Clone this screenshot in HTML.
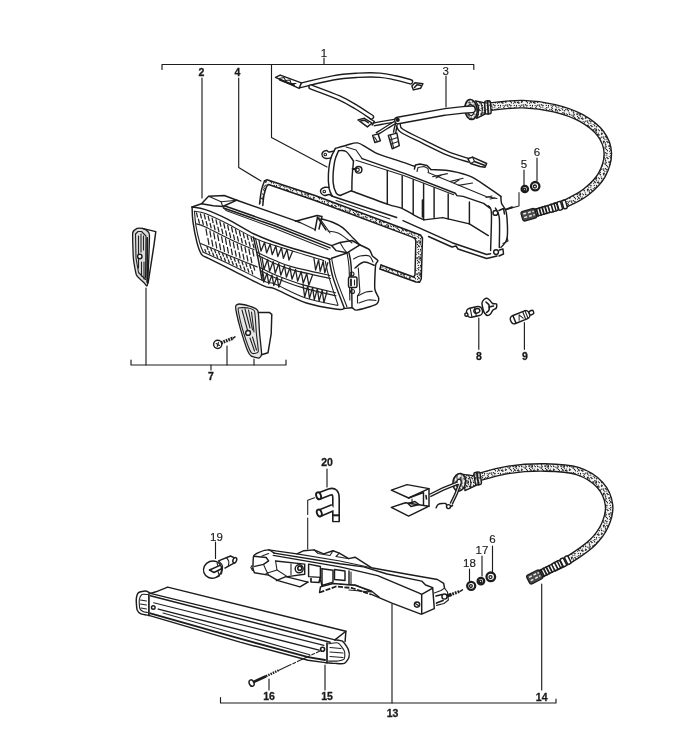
<!DOCTYPE html>
<html><head><meta charset="utf-8"><title>Parts diagram</title>
<style>
html,body{margin:0;padding:0;background:#fff;}
svg{display:block;}
.l{fill:none;stroke:#1c1c1c;stroke-width:1.45;stroke-linecap:round;stroke-linejoin:round;}
.t{fill:none;stroke:#222;stroke-width:1.1;stroke-linecap:round;stroke-linejoin:round;}
.w{fill:#fff;stroke:#1c1c1c;stroke-width:1.45;stroke-linejoin:round;}
text{font-family:"Liberation Sans",sans-serif;font-weight:bold;font-size:10.5px;fill:#1a1a1a;text-anchor:middle;stroke:#1a1a1a;stroke-width:0.3px;}
text.n{font-weight:normal;font-size:11.5px;stroke-width:0.15px;}
</style></head><body>
<svg width="700" height="748" viewBox="0 0 700 748">
<defs>
<pattern id="stp" width="16" height="16" patternUnits="userSpaceOnUse"><rect width="16" height="16" fill="#f4f4f4"/><g fill="#222"><circle cx="1.1" cy="1.7" r="0.69"/><circle cx="1.1" cy="2.5" r="0.70"/><circle cx="1.5" cy="4.4" r="0.64"/><circle cx="1.5" cy="7.3" r="0.56"/><circle cx="1.2" cy="12.5" r="0.55"/><circle cx="0.3" cy="14.5" r="0.62"/><circle cx="2.9" cy="0.9" r="0.80"/><circle cx="3.2" cy="3.0" r="0.75"/><circle cx="2.6" cy="5.8" r="0.85"/><circle cx="3.3" cy="6.7" r="0.62"/><circle cx="2.3" cy="9.4" r="0.67"/><circle cx="2.8" cy="11.7" r="0.80"/><circle cx="2.5" cy="13.7" r="0.69"/><circle cx="4.3" cy="1.2" r="0.78"/><circle cx="4.3" cy="2.7" r="0.84"/><circle cx="4.4" cy="4.6" r="0.58"/><circle cx="5.5" cy="6.5" r="0.72"/><circle cx="4.5" cy="9.4" r="0.59"/><circle cx="4.4" cy="10.9" r="0.61"/><circle cx="5.8" cy="13.5" r="0.64"/><circle cx="4.5" cy="14.8" r="0.81"/><circle cx="6.4" cy="1.8" r="0.61"/><circle cx="7.4" cy="2.7" r="0.64"/><circle cx="6.3" cy="5.1" r="0.62"/><circle cx="6.8" cy="6.9" r="0.84"/><circle cx="7.1" cy="9.6" r="0.60"/><circle cx="7.7" cy="11.5" r="0.62"/><circle cx="7.4" cy="13.7" r="0.61"/><circle cx="9.2" cy="0.9" r="0.58"/><circle cx="9.7" cy="2.6" r="0.76"/><circle cx="9.5" cy="5.2" r="0.64"/><circle cx="9.4" cy="6.3" r="0.62"/><circle cx="9.6" cy="9.2" r="0.63"/><circle cx="8.5" cy="10.2" r="0.63"/><circle cx="8.3" cy="12.5" r="0.66"/><circle cx="8.4" cy="14.8" r="0.82"/><circle cx="11.3" cy="3.1" r="0.59"/><circle cx="10.2" cy="5.7" r="0.76"/><circle cx="11.2" cy="9.0" r="0.77"/><circle cx="11.8" cy="10.3" r="0.71"/><circle cx="11.6" cy="13.4" r="0.76"/><circle cx="11.7" cy="14.8" r="0.76"/><circle cx="13.6" cy="0.9" r="0.79"/><circle cx="13.1" cy="3.2" r="0.66"/><circle cx="13.2" cy="4.3" r="0.74"/><circle cx="13.4" cy="8.8" r="0.77"/><circle cx="12.9" cy="11.5" r="0.58"/><circle cx="12.2" cy="13.2" r="0.69"/><circle cx="13.3" cy="15.0" r="0.73"/><circle cx="14.2" cy="2.7" r="0.75"/><circle cx="14.5" cy="5.6" r="0.75"/><circle cx="15.6" cy="6.7" r="0.75"/><circle cx="14.9" cy="9.5" r="0.82"/><circle cx="14.8" cy="11.1" r="0.64"/><circle cx="15.0" cy="13.5" r="0.80"/><circle cx="15.7" cy="14.6" r="0.60"/></g></pattern>
</defs>
<rect width="700" height="748" fill="#fff"/>
<!--LEADERS-->
<g id="leaders" class="l" style="stroke-width:1.15">
<path d="M162,69.5V64.5H473.8V69.5"/>
<path d="M324,58V64.5"/>
<path d="M202,78V198"/>
<path d="M238.7,78V167.5L261,181"/>
<path d="M271.5,64.5V137.5L327,167"/>
<path d="M446,76V107"/>
<path d="M524,170V185"/>
<path d="M537,158V181"/>
<path d="M519,192.500V206L507.500,209" class="t"/>
<path d="M131,360V365H286V360"/>
<path d="M211,365V370"/>
<path d="M146,288V365"/>
<path d="M227,346V365"/>
<path d="M254,359V365"/>
<path d="M478.800,318V349.300"/>
<path d="M524.400,322.500V349.300"/>
<path d="M327,469V487"/>
<path d="M314.500,497.700L307.700,500.300V514.500M307.700,518V549" class="t"/>
<path d="M215.500,542V558.500"/>
<path d="M220.500,697.500V703H556V699"/>
<path d="M269,679V690"/>
<path d="M325,665V690"/>
<path d="M392,604V703"/>
<path d="M541.700,584V690"/>
<path d="M492.500,546V572"/>
<path d="M482,556V576"/>
<path d="M469.500,569V582"/>
</g>
<!--LABELS-->
<g id="labels" style="filter:grayscale(1)">
<text class="n" x="324" y="57">1</text>
<text x="201.500" y="76">2</text>
<text x="237.500" y="76">4</text>
<text class="n" x="445.600" y="74.500">3</text>
<text class="n" x="524" y="168">5</text>
<text class="n" x="537" y="156">6</text>
<text x="211" y="380">7</text>
<text x="478.800" y="359.500">8</text>
<text x="524.800" y="359.800">9</text>
<text x="327" y="466">20</text>
<text class="n" x="216.400" y="540.500">19</text>
<text x="269" y="700">16</text>
<text x="327" y="700">15</text>
<text x="392.500" y="716.500">13</text>
<text x="541.700" y="701">14</text>
<text class="n" x="492.500" y="543">6</text>
<text class="n" x="482" y="554">17</text>
<text class="n" x="469.500" y="567">18</text>
</g>
<path d="M490.5,106.5C495.9,106.1 512.1,103.8 522.8,104.1C533.4,104.4 544.7,105.9 554.4,108.2C564.1,110.5 573.4,113.7 581.1,117.9C588.8,122.2 596.2,127.8 600.6,133.7C605.0,139.6 607.6,146.2 607.8,153.1C608.0,160.0 605.4,168.5 601.8,175.0C598.2,181.5 591.9,187.3 586.0,192.0C580.1,196.7 571.8,200.5 566.6,203.0C561.4,205.5 556.9,206.3 555.0,207.0" fill="none" stroke="#1c1c1c" stroke-width="8.8"/>
<path d="M490.5,106.5C495.9,106.1 512.1,103.8 522.8,104.1C533.4,104.4 544.7,105.9 554.4,108.2C564.1,110.5 573.4,113.7 581.1,117.9C588.8,122.2 596.2,127.8 600.6,133.7C605.0,139.6 607.6,146.2 607.8,153.1C608.0,160.0 605.4,168.5 601.8,175.0C598.2,181.5 591.9,187.3 586.0,192.0C580.1,196.7 571.8,200.5 566.6,203.0C561.4,205.5 556.9,206.3 555.0,207.0" fill="none" stroke="url(#stp)" stroke-width="6.1"/>
<g id="rearhousing"><path class="l" d="M335.4,148.4C337.2,147.9 342.7,146.1 346.4,145.2C350.1,144.3 354.0,142.5 357.4,142.9C360.8,143.3 363.5,145.8 366.9,147.6C370.3,149.4 372.9,151.8 377.9,153.9C382.9,156.0 390.6,158.1 396.7,160.1C402.8,162.1 411.4,165.2 414.4,166.2"/>
<path class="l" d="M414.4,169.0L415.5,165.0L420.0,164.0L427.0,165.5L430.9,169.6"/>
<path class="t" d="M417.0,171.5L418.0,167.5L424.0,166.5L428.0,168.5L428.5,172.0"/>
<path class="l" d="M430.9,169.6C434.4,169.9 445.4,170.0 452.1,171.2C458.8,172.4 465.0,173.9 471.0,176.7C477.0,179.4 483.3,184.4 488.3,187.7C493.3,191.0 498.8,194.9 500.9,196.4"/>
<path class="l" d="M500.9,196.4C501.0,197.6 500.7,200.7 501.6,203.4C502.5,206.2 505.5,207.1 506.4,212.9C507.3,218.7 508.0,232.2 507.1,238.0C506.2,243.8 501.9,245.8 500.9,247.4"/>
<path class="l" d="M495.4,208.1C496.0,209.7 498.6,211.0 499.3,217.6C500.0,224.2 499.3,242.4 499.3,247.4"/>
<path class="l" d="M335.4,148.4C334.6,150.1 331.9,154.3 330.7,158.6C329.5,162.9 328.7,169.3 328.4,174.3C328.1,179.3 328.5,184.7 329.1,188.4C329.8,192.1 331.8,195.0 332.3,196.3"/>
<path class="l" d="M338.6,150.7C337.9,152.5 335.5,156.5 334.6,161.7C333.7,166.9 332.8,176.9 333.1,182.1C333.4,187.3 335.0,190.9 336.2,193.1C337.4,195.3 339.5,195.1 340.1,195.5"/>
<path class="l" d="M338.6,150.7C339.8,150.8 343.5,149.8 346.0,151.5C348.5,153.2 352.2,159.3 353.5,160.9"/>
<path class="l" d="M353.5,160.9C353.3,163.4 352.5,171.2 352.2,176.0C351.9,180.8 351.9,187.7 351.9,190.0"/>
<path class="l" d="M340.1,195.5L351.1,190.8"/>
<path class="l" d="M334.0,151.0C333.2,151.2 330.2,152.1 329.0,152.0C327.8,151.9 327.6,150.4 326.5,150.5C325.4,150.6 323.2,151.5 322.5,152.5C321.8,153.5 321.9,155.5 322.5,156.5C323.1,157.5 324.6,158.2 326.0,158.5C327.4,158.8 330.2,158.1 331.0,158.0"/>
<circle class="t" cx="325.3" cy="154.5" r="1.3"/>
<path class="l" d="M329.0,187.5C328.3,187.5 326.3,187.0 325.0,187.3C323.7,187.6 321.7,188.6 321.0,189.5C320.3,190.4 320.4,192.0 321.0,193.0C321.6,194.0 323.2,195.2 324.5,195.5C325.8,195.8 327.8,194.4 329.0,194.5C330.2,194.6 331.5,195.8 332.0,196.0"/>
<circle class="t" cx="324.3" cy="191.5" r="1.3"/>
<path class="l" d="M362.1,158.6L405.0,173.6L455.3,193.2L456.9,195.6L463.1,196.4L483.6,203.4L489.9,208.1"/>
<path class="t" d="M356.0,160.3L405.0,176.0L453.7,194.8"/>
<path class="t" d="M346.0,147.0L356.0,150.0L362.1,158.6"/>
<path class="l" d="M488.3,205.8C488.8,207.0 491.0,205.4 491.4,212.9C491.8,220.4 490.7,244.3 490.6,250.6"/>
<path class="l" d="M387.3,170.4V204.1"/>
<path class="l" d="M402.2,175.9V208.1"/>
<path class="l" d="M413.2,179.8V214.4"/>
<path class="l" d="M423.6,183.8V219.1"/>
<path class="l" d="M422.4,200.0V217.0"/>
<path class="l" d="M434.1,187.7V217.6"/>
<path class="l" d="M448.2,194.0V219.1"/>
<path class="l" d="M469.4,201.9V223.9"/>
<path class="l" d="M351.1,190.8C357.1,193.0 378.9,201.2 387.3,204.1C395.7,207.0 396.9,206.3 401.4,208.1C405.8,209.9 410.2,213.1 414.0,215.1C417.8,217.1 422.2,219.1 423.9,219.9"/>
<path class="l" d="M423.9,219.9L442.7,217.6L469.4,223.9L488.3,235.6"/>
<path class="l" d="M332.3,196.3L396.7,217.5"/>
<path class="l" d="M403.0,220.6L452.1,242.7L486.7,254.5L490.6,253.7"/>
<path class="t" d="M336.0,200.5L390.0,219.0"/>
<path class="l" d="M428.5,236.5L452.0,247.0L456.0,246.0L458.0,249.0L486.7,258.5L497.0,256.0"/>
<circle class="w" cx="495.4" cy="212.9" r="2.4"/>
<circle class="w" cx="496.1" cy="252.1" r="2.4"/>
<path class="l" d="M499.0,210.5L503.5,208.5L504.5,214.0"/>
<path class="l" d="M499.5,250.0L503.0,249.0L503.5,254.0L499.0,256.0"/>
<path class="t" d="M432.5,176.7L447.4,173.6"/>
<path class="t" d="M450.6,181.4L463.1,178.3"/>
<path class="t" d="M458.4,185.4L472.6,183.0"/>
<path class="t" d="M436.0,178.0L441.0,175.2"/>
<path class="t" d="M454.0,183.0L459.0,180.0"/>
<path class="t" d="M486.0,197.5L492.0,196.0"/>
<path class="t" d="M490.0,199.0L495.0,198.0"/>
<path class="t" d="M428.0,172.5L486.0,196.5L497.0,198.5"/>
<path class="l" d="M505.6,209.6L512.0,207.2" style="stroke-width:2"/>
<circle class="w" cx="358.6" cy="169.8" r="3.3"/>
<circle class="t" cx="357.6" cy="169.8" r="1.7"/>
<path class="l" d="M352.5,169.0L355.5,169.0" style="stroke-width:1.8"/>
<path class="t" d="M503.0,243.5L508.0,241.0L507.0,237.5"/>
</g>
<g id="gasket"><path d="M264.5,181.0L267.0,179.7L315.0,195.5L415.6,233.2L420.5,235.0L422.5,238.0L421.3,279.0L419.5,282.3L416.0,282.0L380.0,269.0L380.0,269.0L381,265L381.0,265.0L413.5,277.0L415.0,275.0L415.8,241.0L415.0,238.5L412.4,237.1L315.0,200.5L268.5,184.5L266.5,186.5Z" fill="url(#stp)" stroke="none" fill-rule="evenodd"/>
<path class="l" d="M264.5,181.0L267.0,179.7L315.0,195.5L415.6,233.2L420.5,235.0L422.5,238.0L421.3,279.0L419.5,282.3L416.0,282.0L380.0,269.0"/>
<path class="l" d="M266.5,186.5L268.5,184.5L315.0,200.5L412.4,237.1L415.0,238.5L415.8,241.0L415.0,275.0L413.5,277.0L381.0,265.0"/>
<path class="l" d="M380.0,269.0L381.0,265.0"/>
<path d="M264.500,181L260,203.500L262.500,205L266.500,186.500Z" fill="url(#stp)" stroke="none"/>
<path class="l" d="M264.5,181.0C264.0,182.5 262.3,186.2 261.5,190.0C260.7,193.8 259.8,201.7 259.5,204.0"/>
<path class="l" d="M266.5,186.5C266.1,187.9 264.6,191.8 264.0,195.0C263.4,198.2 263.0,203.8 262.8,205.5"/>
</g>
<g id="frontlens"><path d="M192.1,207.0L201.5,203.8L208.6,196.3L224.3,195.5L236.9,200.2L295.0,220.6L326.9,224.4L342.6,227.6L353.6,238.6L359.9,244.9L369.3,249.6L372.4,255.9L377.9,260.6L375.6,265.3L374.8,288.9L378.7,298.3L375.6,304.6L356.7,310.1L352.0,307.7L344.1,308.5L337.9,309.3L306.4,303.0L275.0,288.9L232.1,270.1L207.0,257.6L201.5,254.4L196.8,241.9L192.9,221.4Z" fill="#fff" stroke="none"/>
<path class="l" d="M192.1,207.0C194.3,207.4 199.5,207.6 205.4,209.6C211.3,211.6 219.3,215.0 227.4,219.1C235.5,223.2 246.2,230.1 254.1,234.0C262.0,237.9 268.4,240.0 275.0,242.5C281.6,245.0 285.2,246.2 293.9,248.8C302.5,251.4 321.0,256.5 326.9,258.2C332.8,259.9 328.8,258.9 329.2,259.0"/>
<path class="t" d="M194.4,211.2C196.2,211.6 199.9,211.5 205.4,213.6C210.9,215.7 219.3,219.8 227.4,223.8C235.5,227.9 246.2,234.3 254.1,237.9C262.0,241.5 263.4,241.8 275.0,245.6C286.6,249.4 315.6,258.1 323.7,260.6"/>
<path class="l" d="M192.1,207.0C192.2,209.4 192.1,215.6 192.9,221.4C193.7,227.2 195.4,236.4 196.8,241.9C198.2,247.4 199.8,251.8 201.5,254.4C203.2,257.0 206.1,257.1 207.0,257.6"/>
<path class="t" d="M194.4,211.2C194.7,213.7 195.1,220.7 196.0,226.1C196.9,231.5 198.7,239.1 199.9,243.4C201.1,247.7 202.6,250.7 203.1,252.1"/>
<path class="l" d="M207.0,257.6C211.2,259.7 222.7,265.4 232.1,270.1C241.5,274.8 256.5,282.8 263.6,285.9C270.8,289.0 267.9,286.0 275.0,288.9C282.1,291.8 295.9,299.6 306.4,303.0C316.9,306.4 331.6,308.4 337.9,309.3C344.2,310.2 343.1,308.6 344.1,308.5"/>
<path class="t" d="M203.1,252.1C207.9,254.3 222.0,260.6 232.1,265.4C242.2,270.2 256.5,278.0 263.6,281.1C270.8,284.2 267.9,281.2 275.0,284.1C282.1,287.0 295.9,294.8 306.4,298.3C316.9,301.9 332.6,304.2 337.9,305.4"/>
<path class="l" d="M329.2,259.0C329.9,262.1 330.6,269.8 333.1,277.9C335.6,286.0 342.3,302.7 344.1,307.7"/>
<path class="t" d="M325.3,261.4C325.9,264.1 327.1,270.7 329.2,277.9C331.3,285.1 336.4,300.2 337.9,304.6"/>
<path class="t" d="M331.6,258.2C332.3,261.5 333.4,269.8 336.0,277.9C338.6,286.0 345.2,302.1 347.0,307.0"/>
<path class="t" d="M196.0,223.8C197.6,224.3 199.4,224.2 205.4,226.9C211.4,229.7 224.0,236.5 232.1,240.3C240.2,244.1 250.4,248.1 254.1,249.7"/>
<path class="t" d="M200.7,243.4C205.9,245.6 222.7,252.9 232.1,256.8C241.5,260.7 253.1,265.3 257.3,267.0"/>
<path class="l" d="M253.4,237.1L258.0,258.0L262.0,279.5"/>
<path class="t" d="M255.5,238.5L260.5,259.0L264.5,281.0"/>
<path class="t" d="M256.5,252.0C259.6,253.4 269.0,258.1 275.0,260.6C281.0,263.1 283.1,264.4 292.3,266.9C301.5,269.4 323.7,274.1 330.0,275.5"/>
<path class="t" d="M260.0,267.5C262.5,268.7 267.8,271.8 275.0,274.7C282.2,277.6 293.2,281.9 303.3,284.9C313.4,287.9 330.1,291.5 335.5,292.8"/>
<path class="t" d="M257.0,255.0C260.0,256.4 269.1,261.1 275.0,263.6C280.9,266.1 283.1,267.4 292.3,269.9C301.6,272.4 324.1,277.1 330.5,278.5"/>
<path class="t" d="M260.5,270.5C262.9,271.7 267.9,274.8 275.0,277.7C282.1,280.6 293.1,284.9 303.3,287.9C313.5,290.9 330.6,294.5 336.0,295.8"/>
<path class="t" d="M196.5,212.9l1.0,4.1M198.4,219.1l1.0,4.1M200.4,213.8l1.0,4.2M202.3,220.2l1.0,4.3M204.3,214.7l1.0,4.3M206.2,221.5l1.0,4.4M208.2,216.2l1.0,4.4M210.1,223.4l1.0,4.4M212.1,218.1l1.0,4.5M214.0,225.2l1.0,4.5M216.0,219.9l1.0,4.5M217.9,227.1l1.0,4.5M219.9,221.7l1.0,4.6M221.8,229.0l1.0,4.6M223.8,223.5l1.0,4.6M225.7,230.9l1.0,4.6M227.7,225.4l1.0,4.7M229.6,232.9l1.0,4.6M231.6,227.4l1.0,4.6M233.5,234.8l1.0,4.6M235.5,229.4l1.0,4.5M237.4,236.7l1.0,4.4M239.4,231.5l1.0,4.4M241.3,238.5l1.0,4.3M243.3,233.5l1.0,4.3M245.2,240.3l1.0,4.2M247.2,235.5l1.0,4.1M249.1,242.2l1.0,4.1M251.1,237.5l1.0,4.0M253.0,244.0l1.0,3.9M206.0,229.0l1.0,6.1M207.9,238.4l1.0,6.0M209.9,231.0l1.0,6.0M211.8,240.2l1.0,5.9M213.8,232.9l1.0,5.9M215.7,242.0l1.0,5.9M217.7,234.8l1.0,5.8M219.6,243.8l1.0,5.8M221.6,236.8l1.0,5.7M223.5,245.6l1.0,5.7M225.5,238.7l1.0,5.6M227.4,247.4l1.0,5.6M229.4,240.6l1.0,5.5M231.3,249.2l1.0,5.5M233.3,242.5l1.0,5.4M235.2,250.8l1.0,5.4M237.2,244.1l1.0,5.4M239.1,252.5l1.0,5.4M241.1,245.8l1.0,5.4M243.0,254.1l1.0,5.4M245.0,247.4l1.0,5.3M246.9,255.7l1.0,5.3M248.9,249.1l1.0,5.3M250.8,257.3l1.0,5.3M252.8,250.7l1.0,5.3M204.9,249.5l1.0,2.6M206.9,246.8l1.0,2.6M208.8,251.3l1.0,2.6M210.8,248.5l1.0,2.6M212.7,253.0l1.0,2.6M214.7,250.2l1.0,2.7M216.6,254.7l1.0,2.7M218.6,251.9l1.0,2.7M220.5,256.5l1.0,2.7M222.5,253.5l1.0,2.7M224.4,258.2l1.0,2.8M226.4,255.2l1.0,2.8M228.3,259.9l1.0,2.8M230.3,256.9l1.0,2.8M232.2,261.7l1.0,2.8M234.2,258.5l1.0,2.9M236.1,263.5l1.0,3.0M238.1,260.1l1.0,3.0M240.0,265.3l1.0,3.1M242.0,261.8l1.0,3.1M243.9,267.0l1.0,3.2M245.9,263.4l1.0,3.3M247.8,268.8l1.0,3.3M249.8,265.0l1.0,3.4M251.7,270.6l1.0,3.4M253.7,266.6l1.0,3.5" style="stroke-width:1.25"/>
<path class="t" d="M259.0,240.5l2.0,10.6 l3.6,-8.8l2.0,10.6 l3.6,-8.8l2.0,10.6 l3.6,-8.8l2.0,10.6 l3.6,-8.8l2.0,10.6 l3.6,-8.8l2.0,10.6 l3.6,-8.8" style="stroke-width:1.3"/>
<path class="t" d="M314.0,258.5l1.6,11.5 l3.0,-10.1l1.6,11.5 l3.0,-10.1l1.6,11.5 l3.0,-10.1" style="stroke-width:1.3"/>
<path class="t" d="M262.0,257.5l2.0,11.7 l3.6,-9.7l2.0,11.7 l3.6,-9.7l2.0,11.7 l3.6,-9.7l2.0,11.7 l3.6,-9.7l2.0,11.7 l3.6,-9.7l2.0,11.7 l3.6,-9.7l2.0,11.7 l3.6,-9.7l2.0,11.7 l3.6,-9.7l2.0,11.7 l3.6,-9.7" style="stroke-width:1.3"/>
<path class="t" d="M303.0,284.5l1.7,12.5 l3.1,-11.1l1.7,12.5 l3.1,-11.1l1.7,12.5 l3.1,-11.1l1.7,12.5 l3.1,-11.1l1.7,12.5 l3.1,-11.1" style="stroke-width:1.3"/>
<path class="t" d="M262.0,271.5l1.8,10.6 l3.2,-8.9l1.8,10.6 l3.2,-8.9l1.8,10.6 l3.2,-8.9l1.8,10.6 l3.2,-8.9" style="stroke-width:1.3"/>
<path class="l" d="M192.1,207.0L201.5,203.8L208.6,196.3L224.3,195.5L236.9,200.2L222.7,206.5L213.3,205.7L201.5,203.8"/>
<path class="t" d="M208.6,196.3L221.1,201.8L222.7,206.5"/>
<path class="t" d="M221.1,201.8L236.9,200.2"/>
<path class="l" d="M236.9,200.2L295.0,220.6L300.0,222.5"/>
<path class="l" d="M224.3,205.7L275.0,223.6L331.6,245.6"/>
<path class="l" d="M223.5,208.0L275.0,226.0L330.0,247.9"/>
<path class="t" d="M222.7,206.5L226.0,210.5L275.0,228.5L328.0,249.8"/>
<path class="l" d="M295.5,221.3L317.0,215.5L322.0,216.5L319.0,229.0"/>
<path class="l" d="M315.0,230.5L317.5,217.0L326.0,230.0"/>
<path class="t" d="M319.5,218.0L330.0,233.0"/>
<path class="t" d="M300.0,222.5L314.8,229.5"/>
<path class="l" d="M322.0,219.0C323.7,219.5 328.6,220.6 332.0,222.0C335.4,223.4 339.0,224.8 342.6,227.6C346.2,230.4 350.7,235.7 353.6,238.6C356.5,241.5 358.8,243.8 359.9,244.9"/>
<path class="t" d="M328.0,231.0C329.7,231.3 334.8,231.7 338.0,233.0C341.2,234.3 344.7,237.3 347.0,239.0C349.3,240.7 351.2,242.3 352.0,243.0"/>
<path class="l" d="M331.6,245.6L336.0,250.6L347.0,252.8L359.9,244.9L352.0,240.5L340.0,242.5L331.6,245.6"/>
<path class="t" d="M340.0,242.5L343.5,248.5L347.0,252.8"/>
<path class="l" d="M359.9,244.9C361.0,245.4 367.8,248.3 369.3,249.6C370.8,250.9 371.4,254.6 372.4,255.9C373.4,257.2 377.5,259.5 377.9,260.6C378.3,261.7 376.0,262.0 375.6,265.3C375.2,268.6 374.4,285.0 374.8,288.9C375.2,292.8 378.6,296.5 378.7,298.3C378.8,300.1 378.2,303.2 375.6,304.6C373.0,306.0 359.5,309.7 356.7,310.1C353.9,310.5 353.5,307.9 352.0,307.7C350.5,307.5 345.0,308.4 344.1,308.5"/>
<path class="l" d="M348.9,252.7C349.3,255.1 350.7,257.7 351.2,266.9C351.7,276.1 351.9,300.9 352.0,307.7"/>
<path class="t" d="M347.0,252.8C347.3,255.2 348.5,259.0 349.0,266.9C349.5,274.8 349.7,294.5 349.8,300.0"/>
<path class="l" d="M331.6,258.2L347.0,253.0"/>
<path class="t" d="M353.6,259.0C354.7,258.5 357.4,256.5 360.0,256.0C362.6,255.5 367.1,254.9 369.3,255.9C371.5,256.9 372.4,261.0 373.0,262.0"/>
<path class="l" d="M355.0,268.0C356.5,267.0 360.8,262.4 364.0,262.0C367.2,261.6 372.4,264.8 374.1,265.3"/>
<path class="t" d="M358.3,268.0L359.9,292.0L357.5,296.0L357.5,303.0"/>
<path class="t" d="M357.5,296.0C358.9,295.3 363.5,292.8 366.0,292.0C368.5,291.2 371.3,291.4 372.4,291.3"/>
<path class="t" d="M359.0,303.0C360.5,302.5 365.2,300.4 368.0,300.0C370.8,299.6 374.7,300.4 376.0,300.5"/>
<rect class="w" x="348.500" y="277" width="8.500" height="10.500" rx="1.500"/>
<circle class="t" cx="352" cy="274" r="2"/>
<circle class="t" cx="352.500" cy="291.500" r="2"/>
<path class="l" d="M351.0,279.5L351.0,285.5" style="stroke-width:1.8"/>
<path class="t" d="M354.5,280.0L354.5,285.0"/>
</g>
<g id="wires"><path d="M396.0,120.5C394.0,120.8 387.8,121.8 384.0,122.5C380.2,123.2 375.2,124.2 373.5,124.5" fill="none" stroke="#1c1c1c" stroke-width="4.2" stroke-linecap="butt"/>
<path d="M396.0,120.5C394.0,120.8 387.8,121.8 384.0,122.5C380.2,123.2 375.2,124.2 373.5,124.5" fill="none" stroke="#fff" stroke-width="1.5" stroke-linecap="butt"/>
<path d="M395.0,122.5C393.5,123.4 389.1,126.1 386.0,128.0C382.9,129.9 378.1,133.0 376.5,134.0" fill="none" stroke="#1c1c1c" stroke-width="3.8" stroke-linecap="butt"/>
<path d="M395.0,122.5C393.5,123.4 389.1,126.1 386.0,128.0C382.9,129.9 378.1,133.0 376.5,134.0" fill="none" stroke="#fff" stroke-width="1.1" stroke-linecap="butt"/>
<path d="M397.0,123.0C396.8,123.8 395.9,126.3 395.5,128.0C395.1,129.7 394.7,132.2 394.5,133.0" fill="none" stroke="#1c1c1c" stroke-width="3.6" stroke-linecap="butt"/>
<path d="M397.0,123.0C396.8,123.8 395.9,126.3 395.5,128.0C395.1,129.7 394.7,132.2 394.5,133.0" fill="none" stroke="#fff" stroke-width="0.9" stroke-linecap="butt"/>
<path d="M398.5,124.0C399.0,125.1 397.4,127.6 401.5,130.5C405.6,133.4 415.2,137.7 423.0,141.5C430.8,145.3 440.2,150.3 448.0,153.5C455.8,156.7 465.9,159.4 469.5,160.6" fill="none" stroke="#1c1c1c" stroke-width="4.9" stroke-linecap="butt"/>
<path d="M398.5,124.0C399.0,125.1 397.4,127.6 401.5,130.5C405.6,133.4 415.2,137.7 423.0,141.5C430.8,145.3 440.2,150.3 448.0,153.5C455.8,156.7 465.9,159.4 469.5,160.6" fill="none" stroke="#fff" stroke-width="2.2" stroke-linecap="butt"/>
<circle cx="397.700" cy="119.900" r="2.100" fill="#1c1c1c"/>
<path d="M300.3,85.5C305.7,84.2 323.3,79.6 332.9,77.9C342.5,76.2 350.1,75.8 358.0,75.3C365.9,74.8 373.8,74.8 380.0,75.2C386.2,75.6 389.9,76.7 395.0,77.8C400.1,78.9 407.9,81.1 410.5,81.8" fill="none" stroke="#1c1c1c" stroke-width="5.6" stroke-linecap="round"/>
<path d="M300.3,85.5C305.7,84.2 323.3,79.6 332.9,77.9C342.5,76.2 350.1,75.8 358.0,75.3C365.9,74.8 373.8,74.8 380.0,75.2C386.2,75.6 389.9,76.7 395.0,77.8C400.1,78.9 407.9,81.1 410.5,81.8" fill="none" stroke="#fff" stroke-width="2.9" stroke-linecap="round"/>
<path d="M311.0,87.0C315.7,88.8 331.4,94.4 339.0,97.8C346.6,101.2 351.1,104.1 356.5,107.3C361.9,110.5 369.0,115.4 371.5,117.0" fill="none" stroke="#1c1c1c" stroke-width="5.4" stroke-linecap="round"/>
<path d="M311.0,87.0C315.7,88.8 331.4,94.4 339.0,97.8C346.6,101.2 351.1,104.1 356.5,107.3C361.9,110.5 369.0,115.4 371.5,117.0" fill="none" stroke="#fff" stroke-width="2.7" stroke-linecap="round"/>
<path class="w" d="M275.5,77.4L280.2,75.1L301.4,82.9L299.1,88.4Z"/>
<path class="t" d="M279.0,78.5L284.0,77.5L285.5,80.5L290.0,80.0L291.0,83.5L296.0,83.5"/>
<path class="l" d="M280.0,79.8L287.0,82.5L294.0,85.2" style="stroke-width:2.2"/>
<path class="w" d="M411.9,85.9L415.0,82.8L422.9,83.6L420.5,88.3L413.4,89.9Z"/>
<path class="l" d="M414.5,87.5L417.0,84.8L420.5,85.3" style="stroke-width:1.5"/>
<path class="w" d="M358.0,119.9L364.3,118.3L372.1,123.0L367.4,126.9Z"/>
<path class="l" d="M361.0,120.8L364.5,120.2L368.5,122.8" style="stroke-width:1.5"/>
<path class="l" d="M369.5,118.5L374.5,121.5L372.1,125.0"/>
<path class="w" d="M372.6,135.4L378.1,133.9L380.4,140.9L374.9,142.5Z"/>
<path class="t" d="M374.5,137.0L377.0,140.8"/>
<path class="w" d="M388.3,135.4L396.9,133.1L399.3,145.6L392.2,148.8Z"/>
<path class="t" d="M390.0,140.0L397.5,137.5"/>
<path class="t" d="M391.0,144.0L398.5,141.5"/>
<path class="t" d="M390.5,135.0L393.5,147.5"/>
<path class="w" d="M467.9,158.8L472.5,157.1L486.7,163.5L485.0,167.3L480.0,166.5L470.5,163.5Z"/>
<path class="t" d="M472.5,157.1L474.5,161.5L470.5,163.5"/>
<path class="l" d="M474.5,161.5L485.0,165.6" style="stroke-width:1.6"/>
</g>
<g id="grommet1"><ellipse cx="471" cy="109.500" rx="6.200" ry="10" transform="rotate(-6 471 109.500)" fill="url(#stp)" stroke="#1c1c1c" stroke-width="1.600"/>
<ellipse cx="470.800" cy="110" rx="2.900" ry="5.600" transform="rotate(-6 470.800 110)" fill="#fff" stroke="#1c1c1c" stroke-width="1.300"/>
<path d="M475.500,100.800L485,102.800L485,114.200L476.500,118.300C479.500,112 479.500,106 475.500,100.800Z" fill="url(#stp)" stroke="#1c1c1c" stroke-width="1.300" stroke-linejoin="round"/>
<path class="t" d="M480.5,102.2C480.8,103.2 482.2,106.2 482.3,108.5C482.4,110.8 481.5,114.8 481.3,116.0"/>
<rect x="485" y="100.800" width="5.800" height="13.200" rx="1.500" transform="rotate(-4 488 107.500)" fill="url(#stp)" stroke="#1c1c1c" stroke-width="1.400"/>
<path class="l" d="M487.6,101.0L488.2,114.0" style="stroke-width:1.6"/>
<path d="M398.0,120.5L445.5,111.8L463.0,109.9L472.0,109.3" fill="none" stroke="#1c1c1c" stroke-width="7.9" stroke-linecap="round"/>
<path d="M398.0,120.5L445.5,111.8L463.0,109.9L472.0,109.3" fill="none" stroke="#fff" stroke-width="5.2" stroke-linecap="round"/>
<circle cx="397.700" cy="119.900" r="2.100" fill="#1c1c1c"/>
</g>
<g id="hoseend1"><g transform="translate(556.5 206.8) rotate(-16.0)"><rect class="w" x="1.500" y="-4.300" width="3.800" height="8.600" rx="1.400"/><rect class="w" x="6.500" y="-4.300" width="3.800" height="8.600" rx="1.400"/><rect class="w" x="-8" y="-3.800" width="9" height="7.600" rx="1.500"/><path class="l" d="M-4.500,-3.800V3.800" style="stroke-width:1.600"/><path class="l" d="M-1.500,-3.800V3.800"/><rect class="w" x="-22" y="-3.600" width="14" height="7.200"/><path class="l" d="M-11,-3.600V3.600M-14,-3.600V3.600M-17,-3.600V3.600M-20,-3.600V3.600" style="stroke-width:1.800"/><rect x="-36" y="-4.900" width="14.500" height="9.800" rx="2.200" fill="#4a4a4a" stroke="#1c1c1c" stroke-width="1.300"/><path d="M-34,-2.200h3M-29,-2.200h3M-34,1.500h3M-29,1.500h3M-24.500,-2h1.500M-24.500,1.500h1.500" stroke="#e8e8e8" stroke-width="1.500" fill="none"/></g>
</g>
<circle cx="524.8" cy="189.0" r="3.2" fill="#fff" stroke="#1c1c1c" stroke-width="2.3"/><circle cx="524.5" cy="189.3" r="1.2" fill="none" stroke="#1c1c1c" stroke-width="1.3"/>
<circle cx="535.2" cy="186.2" r="4.2" fill="#fff" stroke="#1c1c1c" stroke-width="2.3"/><circle cx="534.9" cy="186.5" r="1.5" fill="none" stroke="#1c1c1c" stroke-width="1.3"/>
<g id="bulbs89"><g transform="translate(474 312) rotate(-12)"><rect class="w" x="-7.500" y="-4.600" width="16" height="9.200" rx="4"/><path class="t" d="M-3,-4.500v9M1.500,-4.500v9"/><circle class="w" cx="-8" cy="1" r="1.600"/><ellipse class="l" cx="3" cy="-0.500" rx="3" ry="2.200"/></g>
<path class="w" d="M482.0,303.0C482.1,301.7 483.3,300.1 484.0,299.5C484.7,298.9 486.2,298.1 487.0,298.2C487.8,298.3 489.3,299.8 490.0,300.5C490.7,301.2 491.6,303.0 492.5,303.5C493.4,304.0 496.0,303.4 496.5,304.0C497.0,304.6 496.8,307.2 496.3,308.0C495.8,308.8 493.8,309.2 493.0,310.0C492.2,310.8 491.2,313.3 490.5,314.0C489.8,314.7 488.3,315.6 487.5,315.5C486.7,315.4 485.1,313.9 484.5,313.0C483.9,312.1 483.3,310.3 483.0,309.0C482.7,307.7 481.9,304.3 482.0,303.0Z"/>
<path class="l" d="M486.0,302.0C486.5,302.5 488.5,303.7 489.0,305.0C489.5,306.3 489.4,308.8 489.0,310.0C488.6,311.2 486.9,312.1 486.5,312.5" style="stroke-width:1.6"/>
<path class="l" d="M489.0,307.0L493.5,306.0" style="stroke-width:1.6"/>
<g transform="translate(520.500 317) rotate(-22)"><rect class="w" x="-10.500" y="-4.200" width="20" height="8.400" rx="3.500"/><path class="l" d="M-6.500,-4v8"/><path class="t" d="M4,-4v8M6.500,-4v8"/><rect class="w" x="9.500" y="-2" width="4.500" height="4" rx="1.500"/><path class="l" d="M-2.500,2.500l2,-5l2.500,4.500" style="stroke-width:1"/></g>
</g>
<g id="sidepieces"><path d="M132.7,232.9C133.0,230.4 136.4,228.8 137.2,228.4C138.0,228.0 141.4,227.9 142.4,228.4C143.4,228.9 149.0,230.1 149.4,234.8C149.8,239.5 147.9,280.3 147.5,284.3C147.1,288.3 145.2,283.8 144.3,283.0C143.4,282.2 137.5,277.3 136.6,275.3C135.7,273.3 133.7,262.1 133.4,258.6C133.1,255.1 132.4,235.4 132.7,232.9Z" fill="#ddd" stroke="#1c1c1c" stroke-width="1.300" stroke-linejoin="round"/>
<path class="l" d="M142.4,228.4L155.8,231.6L153.9,245.7L148.1,283.0"/>
<path class="t" d="M135.5,234.0L138.0,231.5L141.5,231.5L146.0,236.0L145.5,278.0"/>
<path class="t" d="M135.5,234.0L136.0,258.0L138.5,272.5L145.5,279.5"/>
<path class="t" d="M138.500,236V268M141,234V252M141.500,262V276M143.500,236V250M144,262V279"/>
<path class="l" d="M147.200,238V282" style="stroke-width:1.8"/>
<circle class="w" cx="139.800" cy="256.500" r="2.200"/>
<path d="M235.8,305.9C236.0,305.1 238.0,304.0 239.1,304.0C240.2,304.0 247.3,305.5 248.7,305.9C250.1,306.3 255.6,308.6 256.4,309.1C257.2,309.6 258.0,310.4 258.3,312.4C258.6,314.4 259.3,330.1 259.6,333.6C259.9,337.1 261.7,352.1 261.6,354.1C261.6,356.1 259.9,357.8 259.0,358.0C258.1,358.2 252.3,356.7 251.3,356.1C250.3,355.5 248.3,352.6 247.4,350.3C246.5,348.0 241.2,331.5 240.3,328.4C239.4,325.3 236.9,314.9 236.5,313.0C236.1,311.1 235.6,306.6 235.8,305.9Z" fill="#e6e6e6" stroke="#1c1c1c" stroke-width="1.300" stroke-linejoin="round"/>
<path class="l" d="M258.3,312.4L269.3,312.4L271.8,314.3L271.2,333.6L268.0,352.8L261.6,354.8"/>
<path class="t" d="M238.4,307.9C239.1,307.5 246.1,307.6 247.4,307.9C248.7,308.2 253.8,309.0 254.5,311.1C255.2,313.2 256.1,330.2 256.4,333.6C256.7,337.0 258.6,349.9 258.3,351.6C258.0,353.3 253.3,353.7 252.6,353.5C251.8,353.3 250.2,351.1 249.3,349.0C248.4,346.9 243.2,331.4 242.3,328.4C241.4,325.4 239.0,314.7 238.7,313.0C238.4,311.3 237.7,308.3 238.4,307.9Z"/>
<path class="t" d="M242,310L248,332M245,309L250,328M248.500,310L252.500,330M251.500,312L254,332M250,338L254.500,351M252.500,337L256.500,350"/>
<circle class="w" cx="248.100" cy="332.900" r="2.400"/>
<circle class="w" cx="217.700" cy="344.300" r="4.100"/>
<path class="t" d="M216.200,343.500L219.500,345.500M218.500,342.500L217.200,346.500"/>
<path class="l" d="M221.1,342.8L233.5,338.0" style="stroke-width:3.4;stroke-dasharray:1.7 0.9;stroke-linecap:butt"/>
<path class="l" d="M233.0,338.2L235.0,336.8"/>
</g>
<path d="M474.0,478.5C479.6,477.1 495.7,471.8 507.5,470.0C519.3,468.2 533.3,467.3 545.0,467.5C556.7,467.7 568.3,468.1 577.5,471.0C586.7,473.9 594.8,479.3 600.0,485.0C605.2,490.7 608.2,498.3 609.0,505.0C609.8,511.7 607.8,518.8 605.0,525.0C602.2,531.2 598.3,536.8 592.5,542.5C586.7,548.2 576.6,554.8 570.0,559.0C563.4,563.2 555.8,566.5 553.0,568.0" fill="none" stroke="#1c1c1c" stroke-width="8.8"/>
<path d="M474.0,478.5C479.6,477.1 495.7,471.8 507.5,470.0C519.3,468.2 533.3,467.3 545.0,467.5C556.7,467.7 568.3,468.1 577.5,471.0C586.7,473.9 594.8,479.3 600.0,485.0C605.2,490.7 608.2,498.3 609.0,505.0C609.8,511.7 607.8,518.8 605.0,525.0C602.2,531.2 598.3,536.8 592.5,542.5C586.7,548.2 576.6,554.8 570.0,559.0C563.4,563.2 555.8,566.5 553.0,568.0" fill="none" stroke="url(#stp)" stroke-width="6.1"/>
<g id="housing13"><path class="l" d="M252.9,568.8C253.0,567.5 253.0,557.9 253.6,556.2C254.2,554.6 257.6,552.9 259.1,552.3C260.6,551.7 267.1,549.8 268.6,549.9C270.1,550.0 273.6,552.8 274.1,553.1"/>
<path class="l" d="M252.9,568.8L254.4,572.7L268.6,575.1L278.0,580.6L300.0,586.9L307.9,582.1"/>
<path class="l" d="M253.8,556.2L266.2,557.5L268.6,560.9L263.5,564.4L254.7,566.4"/>
<path class="t" d="M263.5,564.4L266.0,570.0L268.6,575.1"/>
<path class="t" d="M252.0,565.5L250.8,567.5L252.5,570.5"/>
<path class="t" d="M262.0,556.0L268.6,553.5"/>
<path class="l" d="M268.6,549.9L296.9,553.9L303.9,550.7L314.1,549.9L323.6,553.9L333.0,550.7L339.3,553.1L348.7,558.6L355.0,557.2L360.4,560.6L371.4,567.7L406.0,574.0L437.4,579.5L443.7,583.4L444.5,588.1"/>
<path class="l" d="M274.1,553.1L340.0,563.8L363.6,566.9L387.1,574.0L421.7,581.1L425.6,585.0L432.7,587.6"/>
<path class="l" d="M273.3,555.4L340.0,566.9L377.7,575.6L418.6,592.9L421.7,594.4"/>
<path class="t" d="M296.9,553.9L340.0,561.0L371.4,567.7"/>
<path class="t" d="M314.1,549.9L318.0,553.5L330.0,555.5L333.0,550.7"/>
<path class="t" d="M339.3,553.1L336.0,556.5L346.0,558.2L348.7,558.6"/>
<path class="l" d="M275.6,561.0L304.7,564.1L304.7,574.3L287.4,576.6"/>
<path class="t" d="M275.6,561.0L277.0,570.0L266.0,573.5"/>
<path class="t" d="M277.0,570.0L287.4,576.6"/>
<path class="l" d="M276.4,580.6L285.8,576.6L307.9,582.1"/>
<path class="t" d="M291.0,564.0L291.0,574.5"/>
<circle class="w" cx="299.200" cy="568.800" r="4"/>
<circle class="l" cx="299.800" cy="568.300" r="2" style="stroke-width:1.6"/>
<path class="l" d="M308.6,564.1L320.4,566.5L320.4,577.4L308.6,576.6Z"/>
<path class="l" d="M311.0,578.5L311.0,582.0L319.0,582.5L320.4,577.4" style="stroke-width:1.7"/>
<path class="l" d="M322.0,568.8L333.0,570.3L333.0,582.1L322.0,585.5L320.5,580.0"/>
<path class="l" d="M322.0,568.8L322.0,585.5"/>
<path class="l" d="M334.5,569.5L345.0,571.0L345.0,580.5L334.5,579.5Z"/>
<path class="l" d="M349.0,571.0L349.0,584.0"/>
<path class="t" d="M351.0,572.0L351.0,584.0"/>
<path class="l" d="M319.5,592.5L320.5,586.9L333.0,583.5L355.0,585.2L371.4,591.0L379.0,597.0"/>
<path class="l" d="M319.5,592.5L336.0,586.5L352.0,588.0L371.0,594.5" style="stroke-width:1.8;stroke-dasharray:5 1.5;stroke-linecap:butt"/>
<path class="t" d="M340.0,584.2L355.7,585.0L371.4,592.0L349.0,590.0"/>
<path class="l" d="M371.4,594.4L391.9,603.1L420.9,614.1"/>
<path class="w" d="M421.7,594.4L432.7,588.1L434.3,608.6L421.7,614.1Z"/>
<circle class="w" cx="417" cy="604.600" r="2.600"/>
<path class="t" d="M415.500,603.500L418.500,605.700"/>
<path class="t" d="M434.3,593.0L441.0,590.5L444.5,588.1L447.5,592.0L448.4,600.0L444.0,603.5L436.5,605.4"/>
<path class="l" d="M436.0,596.0L442.0,594.5" style="stroke-width:1.6"/>
<path class="l" d="M436.5,603.0L443.0,600.5" style="stroke-width:1.8"/>
<circle class="w" cx="444.500" cy="596.500" r="2.600"/>
<path class="l" d="M447.0,596.0L460.0,591.3" style="stroke-width:3;stroke-dasharray:1.8 1;stroke-linecap:butt"/>
<path class="l" d="M447.0,596.0L451.5,594.4" style="stroke-width:3.4;stroke-linecap:butt"/>
<path class="l" d="M460.0,591.3L462.5,589.8"/>
</g>
<g id="tube20"><path d="M319.500,513.200L333,507.600" fill="none" stroke="#1c1c1c" stroke-width="8" stroke-linecap="butt"/>
<path d="M318.500,496.200L329.500,492C334,490.500 336,493 336,498L336,521.500" fill="none" stroke="#1c1c1c" stroke-width="8" stroke-linecap="butt"/>
<path d="M319.500,513.200L333,507.600" fill="none" stroke="#fff" stroke-width="4.800" stroke-linecap="butt"/>
<path d="M318.500,496.200L329.500,492C334,490.500 336,493 336,498L336,521.500" fill="none" stroke="#fff" stroke-width="4.800" stroke-linecap="butt"/>
<path d="M334,507L336,509" stroke="#fff" stroke-width="4.800" fill="none"/>
<ellipse class="w" cx="318.600" cy="495.800" rx="2.300" ry="3.600" transform="rotate(-20 318.600 495.800)" style="stroke-width:1.900"/>
<ellipse class="w" cx="319.300" cy="513" rx="2.300" ry="3.600" transform="rotate(-20 319.300 513)" style="stroke-width:1.900"/>
<path d="M332.800,515.300H339.200" stroke="#1c1c1c" stroke-width="2" fill="none"/>
<path d="M332.300,521.600H339.800" stroke="#1c1c1c" stroke-width="1.300" fill="none"/>
</g>
<g id="socket"><path class="w" d="M391.3,507.4L405.4,502.7L429.0,506.2L408.6,516.1Z"/>
<path class="w" d="M391.3,490.1L407.0,484.6L429.0,488.6L408.6,498.0Z"/>
<path class="l" d="M429.0,488.6L429.0,506.2"/>
<path class="l" d="M408.6,498.0L423.5,492.5L423.5,504.5"/>
<path class="t" d="M412.0,499.0L412.0,504.0"/>
<path class="l" d="M408.0,503.5L415.0,501.5L419.0,504.5L411.0,506.5Z" style="stroke-width:1.5"/>
<path class="l" d="M426.0,495.5L426.5,499.0" style="stroke-width:1.6"/>
<path class="l" d="M436.1,507.8C436.4,507.3 437.1,504.9 438.4,504.3C439.7,503.7 444.2,503.1 445.5,503.5C446.8,503.9 447.0,507.1 447.9,507.4C448.8,507.7 452.0,505.8 452.6,505.5"/>
<circle class="w" cx="448.500" cy="506.600" r="2"/>
<path d="M463,474.300L474.800,475.800L476.200,485.300L465,490.600Z" fill="url(#stp)" stroke="#1c1c1c" stroke-width="1.300" stroke-linejoin="round"/>
<ellipse cx="459.300" cy="482.300" rx="6.300" ry="8.900" transform="rotate(10 459.300 482.300)" fill="url(#stp)" stroke="#1c1c1c" stroke-width="1.600"/>
<ellipse cx="458.800" cy="483" rx="2.300" ry="3.800" transform="rotate(10 458.800 483)" fill="#fff" stroke="#1c1c1c" stroke-width="1.300"/>
<path class="t" d="M468.5,475.2C468.9,476.2 470.5,479.4 470.8,481.5C471.1,483.6 470.4,486.9 470.3,488.0"/>
<rect x="474.600" y="472.200" width="6.200" height="12.600" rx="1.600" transform="rotate(-9 477.700 478.500)" fill="url(#stp)" stroke="#1c1c1c" stroke-width="1.400"/>
<path class="l" d="M476.8,472.6L478.6,484.6" style="stroke-width:1.7"/>
<path d="M429.8,495.6L443.0,489.0L458.0,483.0" fill="none" stroke="#1c1c1c" stroke-width="3.8" stroke-linecap="butt"/>
<path d="M429.8,495.6L443.0,489.0L458.0,483.0" fill="none" stroke="#fff" stroke-width="1.1" stroke-linecap="butt"/>
<path d="M459.5,484.5L456.0,494.0L451.2,504.0" fill="none" stroke="#1c1c1c" stroke-width="3.6" stroke-linecap="butt"/>
<path d="M459.5,484.5L456.0,494.0L451.2,504.0" fill="none" stroke="#fff" stroke-width="0.9" stroke-linecap="butt"/>
</g>
<g transform="translate(560.3 563.9) rotate(-27.0)"><rect class="w" x="1.500" y="-4.300" width="3.800" height="8.600" rx="1.400"/><rect class="w" x="6.500" y="-4.300" width="3.800" height="8.600" rx="1.400"/><rect class="w" x="-8" y="-3.800" width="9" height="7.600" rx="1.500"/><path class="l" d="M-4.500,-3.800V3.800" style="stroke-width:1.600"/><path class="l" d="M-1.500,-3.800V3.800"/><rect class="w" x="-22" y="-3.600" width="14" height="7.200"/><path class="l" d="M-11,-3.600V3.600M-14,-3.600V3.600M-17,-3.600V3.600M-20,-3.600V3.600" style="stroke-width:1.800"/><rect x="-36" y="-4.900" width="14.500" height="9.800" rx="2.200" fill="#4a4a4a" stroke="#1c1c1c" stroke-width="1.300"/><path d="M-34,-2.200h3M-29,-2.200h3M-34,1.500h3M-29,1.500h3M-24.500,-2h1.500M-24.500,1.500h1.500" stroke="#e8e8e8" stroke-width="1.500" fill="none"/></g>
<circle cx="490.8" cy="576.8" r="4.3" fill="#fff" stroke="#1c1c1c" stroke-width="2.3"/><circle cx="490.5" cy="577.1" r="1.5" fill="none" stroke="#1c1c1c" stroke-width="1.3"/>
<circle cx="480.9" cy="581.1" r="3.3" fill="#fff" stroke="#1c1c1c" stroke-width="2.3"/><circle cx="480.6" cy="581.4" r="1.2" fill="none" stroke="#1c1c1c" stroke-width="1.3"/>
<circle cx="471.2" cy="585.8" r="4.0" fill="#fff" stroke="#1c1c1c" stroke-width="2.3"/><circle cx="470.9" cy="586.1" r="1.4" fill="none" stroke="#1c1c1c" stroke-width="1.3"/>
<g id="bulb19"><path class="w" d="M218.5,560.8L230.5,556.0L235.5,558.3L235.3,562.3L224.5,568.3"/>
<ellipse class="w" cx="234.800" cy="560.200" rx="1.800" ry="2.800" transform="rotate(20 234.800 560.200)"/>
<path class="t" d="M226.5,557.6C226.9,558.2 228.5,560.1 228.8,561.5C229.1,562.9 228.4,565.2 228.3,566.0"/>
<ellipse class="w" cx="212.600" cy="569.600" rx="9.200" ry="8.600" transform="rotate(-20 212.600 569.600)"/>
<path class="t" d="M218.5,560.8C219.2,561.7 222.0,563.8 222.5,566.0C223.0,568.2 221.7,572.7 221.5,574.0"/>
<path class="l" d="M209.5,570.0L220.0,565.3"/>
<path class="l" d="M209.5,570.0L214.0,572.5L222.0,568.5"/>
<path class="t" d="M217.0,563.0L218.0,566.0"/>
<path class="t" d="M218.0,571.5L219.5,576.0"/>
</g>
<g id="lens15"><path d="M136.3,598.9L138.6,592.6L145.7,591.0L155.9,591.8L167.7,587.1L345.9,631.2L345.1,641.4L348.2,649.3L349.0,657.1L344.3,663.4L325.4,662.6L308.1,660.3L148.9,615.4L141.0,613.8L137.1,609.9Z" fill="#fff" stroke="none"/>
<path class="l" d="M150.4,593.4C149.9,593.1 147.1,591.1 145.7,591.0C144.3,590.9 139.7,591.7 138.6,592.6C137.5,593.5 136.5,596.9 136.3,598.9C136.1,600.9 136.6,608.2 137.1,609.9C137.6,611.6 139.6,613.2 141.0,613.8C142.4,614.4 148.0,615.2 148.9,615.4"/>
<path class="t" d="M147.5,594.5C146.9,594.5 143.0,593.9 142.0,594.5C141.0,595.1 139.6,597.9 139.3,599.5C139.0,601.1 139.4,607.1 139.8,608.5C140.2,609.9 142.1,611.0 143.0,611.5C143.9,612.0 147.0,612.4 147.5,612.5"/>
<path class="l" d="M148.900,594.100V615.400" style="stroke-width:1.7"/>
<path class="t" d="M140.500,600L146.500,601M140.500,604L146.500,605M141,608L146.500,609"/>
<path class="l" d="M150.4,593.4L155.9,591.8L167.7,587.1L345.9,631.2L345.1,641.4"/>
<path class="l" d="M334.9,639.9L345.9,631.2"/>
<path class="l" d="M150.4,593.4L240.0,615.4L334.9,639.9"/>
<path class="l" d="M334.9,639.9C335.8,640.1 341.1,640.3 342.7,641.4C344.3,642.5 347.5,647.5 348.2,649.3C348.9,651.1 349.5,655.5 349.0,657.1C348.5,658.7 345.9,662.7 344.3,663.4C342.7,664.1 337.2,663.5 335.0,663.4C332.8,663.3 326.5,662.7 325.4,662.6"/>
<path class="t" d="M328.6,643.8C329.7,643.7 336.2,642.2 338.0,643.0C339.8,643.8 343.6,649.1 344.3,650.9C345.0,652.7 345.0,657.5 344.3,658.7C343.6,659.9 339.8,660.7 338.0,661.0C336.2,661.3 329.7,661.1 328.6,661.1"/>
<path class="l" d="M327,643V662.600" style="stroke-width:1.7"/>
<path class="t" d="M330,647.500L341,648.500M330,652L343,653M330,656.500L343,657.500"/>
<path class="l" d="M148.9,615.4L240.0,642.1L308.1,660.3L325.4,662.6"/>
<path class="l" d="M150.4,595.7L330.1,642.2"/>
<path class="t" d="M153.6,602.8L323.9,645.4"/>
<path class="l" d="M158.3,609.1L319.1,650.1"/>
<path class="t" d="M163.0,613.0L309.7,654.8"/>
<path class="l" d="M150.4,613.3L240.0,638.6L308.1,657.1L325.0,660.0" style="stroke-width:1.9"/>
<circle class="w" cx="153.300" cy="607.500" r="1.800"/>
<circle class="w" cx="322.600" cy="649.300" r="2" style="stroke-width:1.6"/>
</g>
<g id="screw16"><ellipse class="w" cx="251.600" cy="683.100" rx="2.300" ry="3.300" transform="rotate(-25 251.600 683.100)"/>
<path class="l" d="M253.5,682.0L266.0,676.2" style="stroke-width:2.6;stroke-linecap:butt"/>
<path class="l" d="M266.0,676.2L278.3,670.5" style="stroke-width:2.4;stroke-dasharray:1.5 1;stroke-linecap:butt"/>
<path class="t" d="M278.3,670.5L321.0,650.5" style="stroke-dasharray:14 2 3 2"/>
</g>

</svg>
</body></html>
